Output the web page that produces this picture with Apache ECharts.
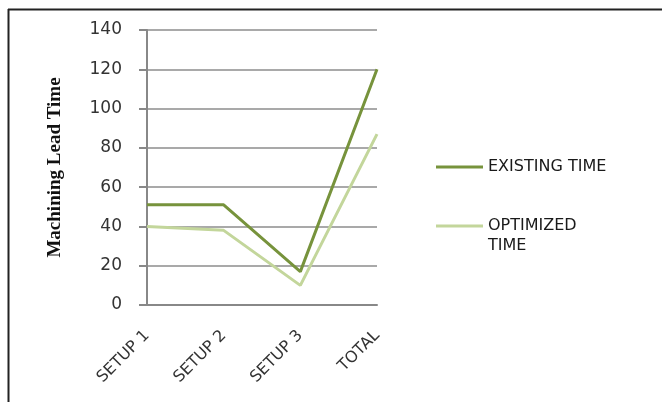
<!DOCTYPE html>
<html>
<head>
<meta charset="utf-8">
<script src="https://cdn.jsdelivr.net/npm/echarts@6/dist/echarts.min.js"></script>
<style>
  html, body { margin: 0; padding: 0; background: #fff; }
  #chart { width: 662px; height: 402px; }
</style>
</head>
<body>
<div id="chart"></div>
<script>
const categories = ["SETUP 1", "SETUP 2", "SETUP 3", "TOTAL"];
const existingTime = [51, 51, 17, 120];
const optimizedTime = [40, 38, 10, 87];
const yTicks = [0, 20, 40, 60, 80, 100, 120, 140];

let chart = echarts.init(document.getElementById("chart"));
let labelFont = "DejaVu Sans";

let option = {
  animation: false,
  backgroundColor: "#fff",
  graphic: [
    { type: "line", shape: { x1: 8, y1: 9.5, x2: 662, y2: 9.5 }, style: { stroke: "#222", lineWidth: 2 } },
    { type: "line", shape: { x1: 8.5, y1: 9, x2: 8.5, y2: 402 }, style: { stroke: "#222", lineWidth: 2 } }
  ],
  grid: { left: 147, right: 285, top: 30, bottom: 97 },
  legend: {
    orient: "vertical",
    left: 436,
    top: 157,
    padding: 0,
    itemWidth: 47,
    itemHeight: 3,
    itemGap: 19,
    itemTextGap: 7,
    icon: "rect",
    textStyle: { fontFamily: labelFont, fontSize: 16, color: "#1a1a1a", lineHeight: 20 },
    // blank first line keeps the icon level with "OPTIMIZED"
    formatter: function (name) {
      return name === "OPTIMIZED TIME" ? " \nOPTIMIZED\nTIME" : name;
    },
    data: ["EXISTING TIME", "OPTIMIZED TIME"]
  },
  xAxis: {
    type: "category",
    data: categories,
    boundaryGap: false,
    axisLine: { lineStyle: { color: "#888", width: 2 } },
    axisTick: { show: false },
    axisLabel: {
      rotate: 45,
      margin: 28,
      fontFamily: labelFont,
      fontSize: 16,
      color: "#333"
    }
  },
  yAxis: {
    type: "value",
    min: 0,
    max: 140,
    interval: 20,
    name: "Machining Lead Time",
    nameLocation: "middle",
    nameGap: 82,
    nameTextStyle: { fontFamily: "Liberation Serif", fontWeight: "bold", fontSize: 19, color: "#111" },
    axisLine: { show: true, lineStyle: { color: "#888", width: 2 } },
    axisTick: { show: true, length: 8, lineStyle: { color: "#888", width: 2 } },
    splitLine: { lineStyle: { color: "#8c8c8c", width: 1.5 } },
    axisLabel: {
      margin: 25,
      fontFamily: labelFont,
      fontSize: 17,
      color: "#333",
      formatter: function (v) { return yTicks.indexOf(v) >= 0 ? String(v) : ""; }
    }
  },
  series: [
    {
      name: "EXISTING TIME",
      type: "line",
      data: existingTime,
      symbol: "none",
      color: "#77933C",
      lineStyle: { width: 3, color: "#77933C" }
    },
    {
      name: "OPTIMIZED TIME",
      type: "line",
      data: optimizedTime,
      symbol: "none",
      color: "#C3D69B",
      lineStyle: { width: 3, color: "#C3D69B" }
    }
  ]
};

chart.setOption(option);
</script>
</body>
</html>
